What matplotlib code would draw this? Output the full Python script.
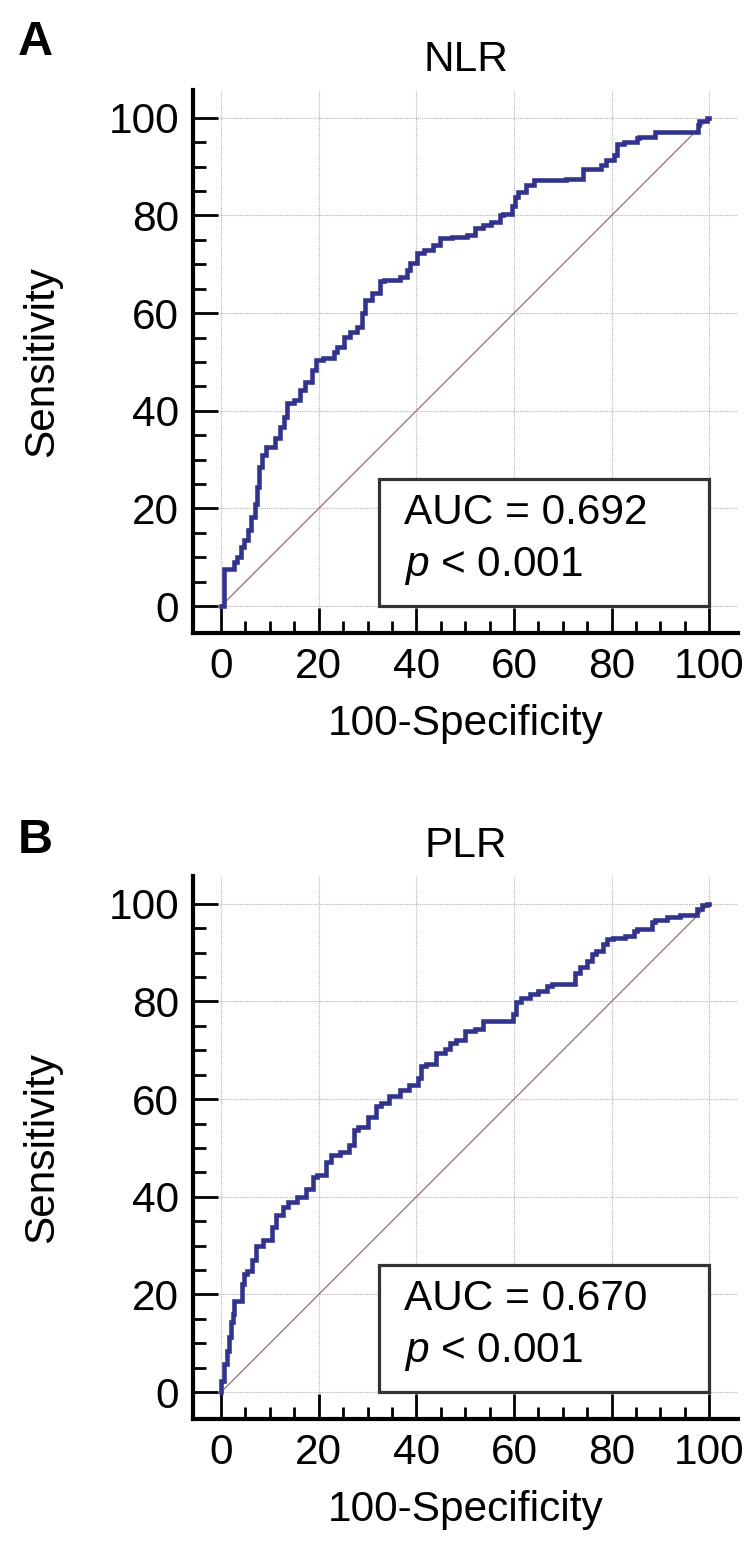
"""
ROC curves for NLR (A) and PLR (B), two stacked panels.
"""
import matplotlib
matplotlib.use("Agg")
import matplotlib.pyplot as plt
from matplotlib.patches import Rectangle
from matplotlib.ticker import FixedLocator

plt.rcParams["font.family"] = ["Liberation Sans", "DejaVu Sans"]
plt.rcParams["mathtext.fontset"] = "custom"
plt.rcParams["mathtext.it"] = "Liberation Sans:italic"
plt.rcParams["mathtext.rm"] = "Liberation Sans"

# 100-specificity / sensitivity
NLR_FPR = [0, 0.5, 0.7, 2.6, 3.3, 4.0, 4.8, 5.5, 6.2, 7.0,
           7.3, 7.7, 8.4, 9.2, 9.9, 11.0, 12.1, 12.8, 13.5, 15.0,
           16.1, 17.2, 18.6, 19.4, 20.9, 23.1, 23.7, 25.1, 26.4, 27.8,
           28.8, 29.5, 30.9, 32.6, 33.3, 36.7, 38.1, 38.7, 40.1, 41.5,
           43.5, 44.9, 47.3, 50.3, 52.0, 53.7, 55.4, 57.1, 57.8, 59.5,
           60.2, 60.8, 62.5, 64.2, 65.2, 70.7, 74.1, 74.4, 77.8, 78.8,
           80.5, 81.2, 82.6, 85.3, 85.7, 88.8, 90.9, 97.7, 98.0, 99.6, 100]
NLR_TPR = [0, 0, 7.7, 7.7, 9.1, 10.1, 12.2, 13.5, 15.6, 18.3,
           21.0, 24.4, 28.5, 30.9, 32.6, 32.6, 34.4, 36.7, 38.8, 41.5,
           42.2, 44.3, 46.0, 48.4, 50.4, 50.8, 52.1, 53.1, 55.2, 56.2,
           57.2, 60.0, 62.7, 64.1, 66.5, 66.8, 67.5, 68.9, 70.2, 72.3,
           73.0, 74.0, 75.3, 75.5, 76.0, 77.4, 78.0, 78.7, 80.0, 80.3,
           82.0, 83.8, 84.8, 86.2, 87.2, 87.2, 87.5, 89.6, 89.6, 90.3,
           91.3, 92.4, 94.7, 95.1, 95.8, 96.1, 97.1, 97.1, 98.5, 99.4, 100]

PLR_FPR = [0, 0.5, 1.3, 1.6, 2.0, 2.4, 2.7, 3.1, 4.2, 4.6,
           5.3, 6.4, 7.1, 8.6, 10.4, 11.2, 12.6, 13.8, 15.6, 17.4,
           18.9, 19.6, 21.4, 22.5, 24.4, 26.2, 27.3, 28.0, 30.2, 31.7,
           32.8, 34.5, 36.6, 38.6, 40.3, 41.0, 42.0, 44.1, 45.8, 46.8,
           48.2, 49.9, 52.0, 53.7, 55.7, 59.8, 60.5, 61.5, 63.2, 64.9,
           66.7, 67.7, 72.5, 73.5, 74.9, 75.9, 76.9, 78.3, 79.0, 80.3,
           82.8, 84.5, 85.2, 88.2, 88.9, 91.3, 94.0, 94.7, 97.5, 98.5, 99.5, 100]
PLR_TPR = [0, 2.3, 5.7, 8.4, 11.2, 14.3, 16.0, 18.7, 18.7, 22.2,
           24.2, 24.9, 27.0, 30.0, 31.1, 33.8, 36.2, 37.9, 39.0, 40.0,
           41.7, 44.1, 44.4, 47.2, 48.6, 49.2, 50.6, 53.7, 54.4, 56.4,
           58.5, 59.2, 60.6, 61.9, 63.0, 64.3, 66.7, 67.1, 69.5, 70.2,
           71.5, 72.2, 73.9, 74.3, 76.0, 76.0, 77.4, 79.8, 80.8, 81.5,
           82.2, 83.2, 83.5, 85.9, 87.0, 88.3, 89.7, 90.4, 91.8, 92.8,
           93.1, 93.5, 94.5, 94.9, 96.3, 96.6, 97.3, 97.7, 97.7, 99.0, 99.8, 100]

LETTERS = ["A", "B"]
TITLES = ["NLR", "PLR"]
AUCS = ["0.692", "0.670"]
P_TEXT = "< 0.001"
TICKS = [0, 20, 40, 60, 80, 100]
MINOR_TICKS = [v for v in range(5, 100, 5) if v % 20]

BLUE = "#303393"
DIAG = "#a06a6a"
GRID = "#b4b4b4"
FS = 30.5


def draw_panel(fig, rect, fpr, tpr, title, auc):
    ax = fig.add_axes(rect)
    ax.set_xlim(-5.75, 105.9)
    ax.set_ylim(-5.5, 105.7)

    ax.grid(True, which="major", linestyle=(0, (1, 1)), color=GRID, linewidth=0.8, zorder=0)
    ax.set_axisbelow(True)

    ax.plot([0, 100], [0, 100], color=DIAG, linewidth=0.9, zorder=2)
    ax.plot(fpr, tpr, color=BLUE, linewidth=3.3, drawstyle="steps-pre",
            solid_joinstyle="miter", zorder=3)

    ax.add_patch(Rectangle((32.3, 0.1), 67.7, 26.0, facecolor="white",
                           edgecolor="#333333", linewidth=2.3, zorder=4))
    ax.text(37.5, 19.0, f"AUC = {auc}", fontsize=FS, va="center", ha="left", zorder=5)
    ax.text(37.5, 8.3, r"$p$" + " " + P_TEXT, fontsize=FS, va="center", ha="left", zorder=5)

    for side in ("top", "right"):
        ax.spines[side].set_visible(False)
    for side in ("left", "bottom"):
        ax.spines[side].set_linewidth(3.0)

    ax.set_xticks(TICKS)
    ax.set_yticks(TICKS)
    ax.xaxis.set_minor_locator(FixedLocator(MINOR_TICKS))
    ax.yaxis.set_minor_locator(FixedLocator(MINOR_TICKS))
    ax.tick_params(which="major", direction="in", length=18, width=2.0,
                   labelsize=FS, pad=10)
    ax.tick_params(which="minor", direction="in", length=9, width=2.0)

    ax.set_title(title, fontsize=FS, pad=14)
    ax.set_xlabel("100-Specificity", fontsize=FS)
    ax.set_ylabel("Sensitivity", fontsize=FS)
    ax.xaxis.set_label_coords(0.5, -0.13)
    ax.yaxis.set_label_coords(-0.24, 0.5)
    return ax


def main():
    W, H = 746, 1542
    fig = plt.figure(figsize=(W / 100, H / 100), dpi=100)

    left, width, height = 193 / W, 545 / W, 543 / H
    bottoms = [1 - 633 / H, 1 - 1419 / H]
    letter_y = [55, 853]
    curves = [(NLR_FPR, NLR_TPR), (PLR_FPR, PLR_TPR)]

    for i in range(2):
        fpr, tpr = curves[i]
        draw_panel(fig, [left, bottoms[i], width, height], fpr, tpr, TITLES[i], AUCS[i])
        fig.text(18 / W, 1 - letter_y[i] / H, LETTERS[i], fontsize=35,
                 fontweight="bold", va="baseline", ha="left")

    fig.savefig("out.png", dpi=100, facecolor="white")
    plt.close(fig)


if __name__ == "__main__":
    main()
